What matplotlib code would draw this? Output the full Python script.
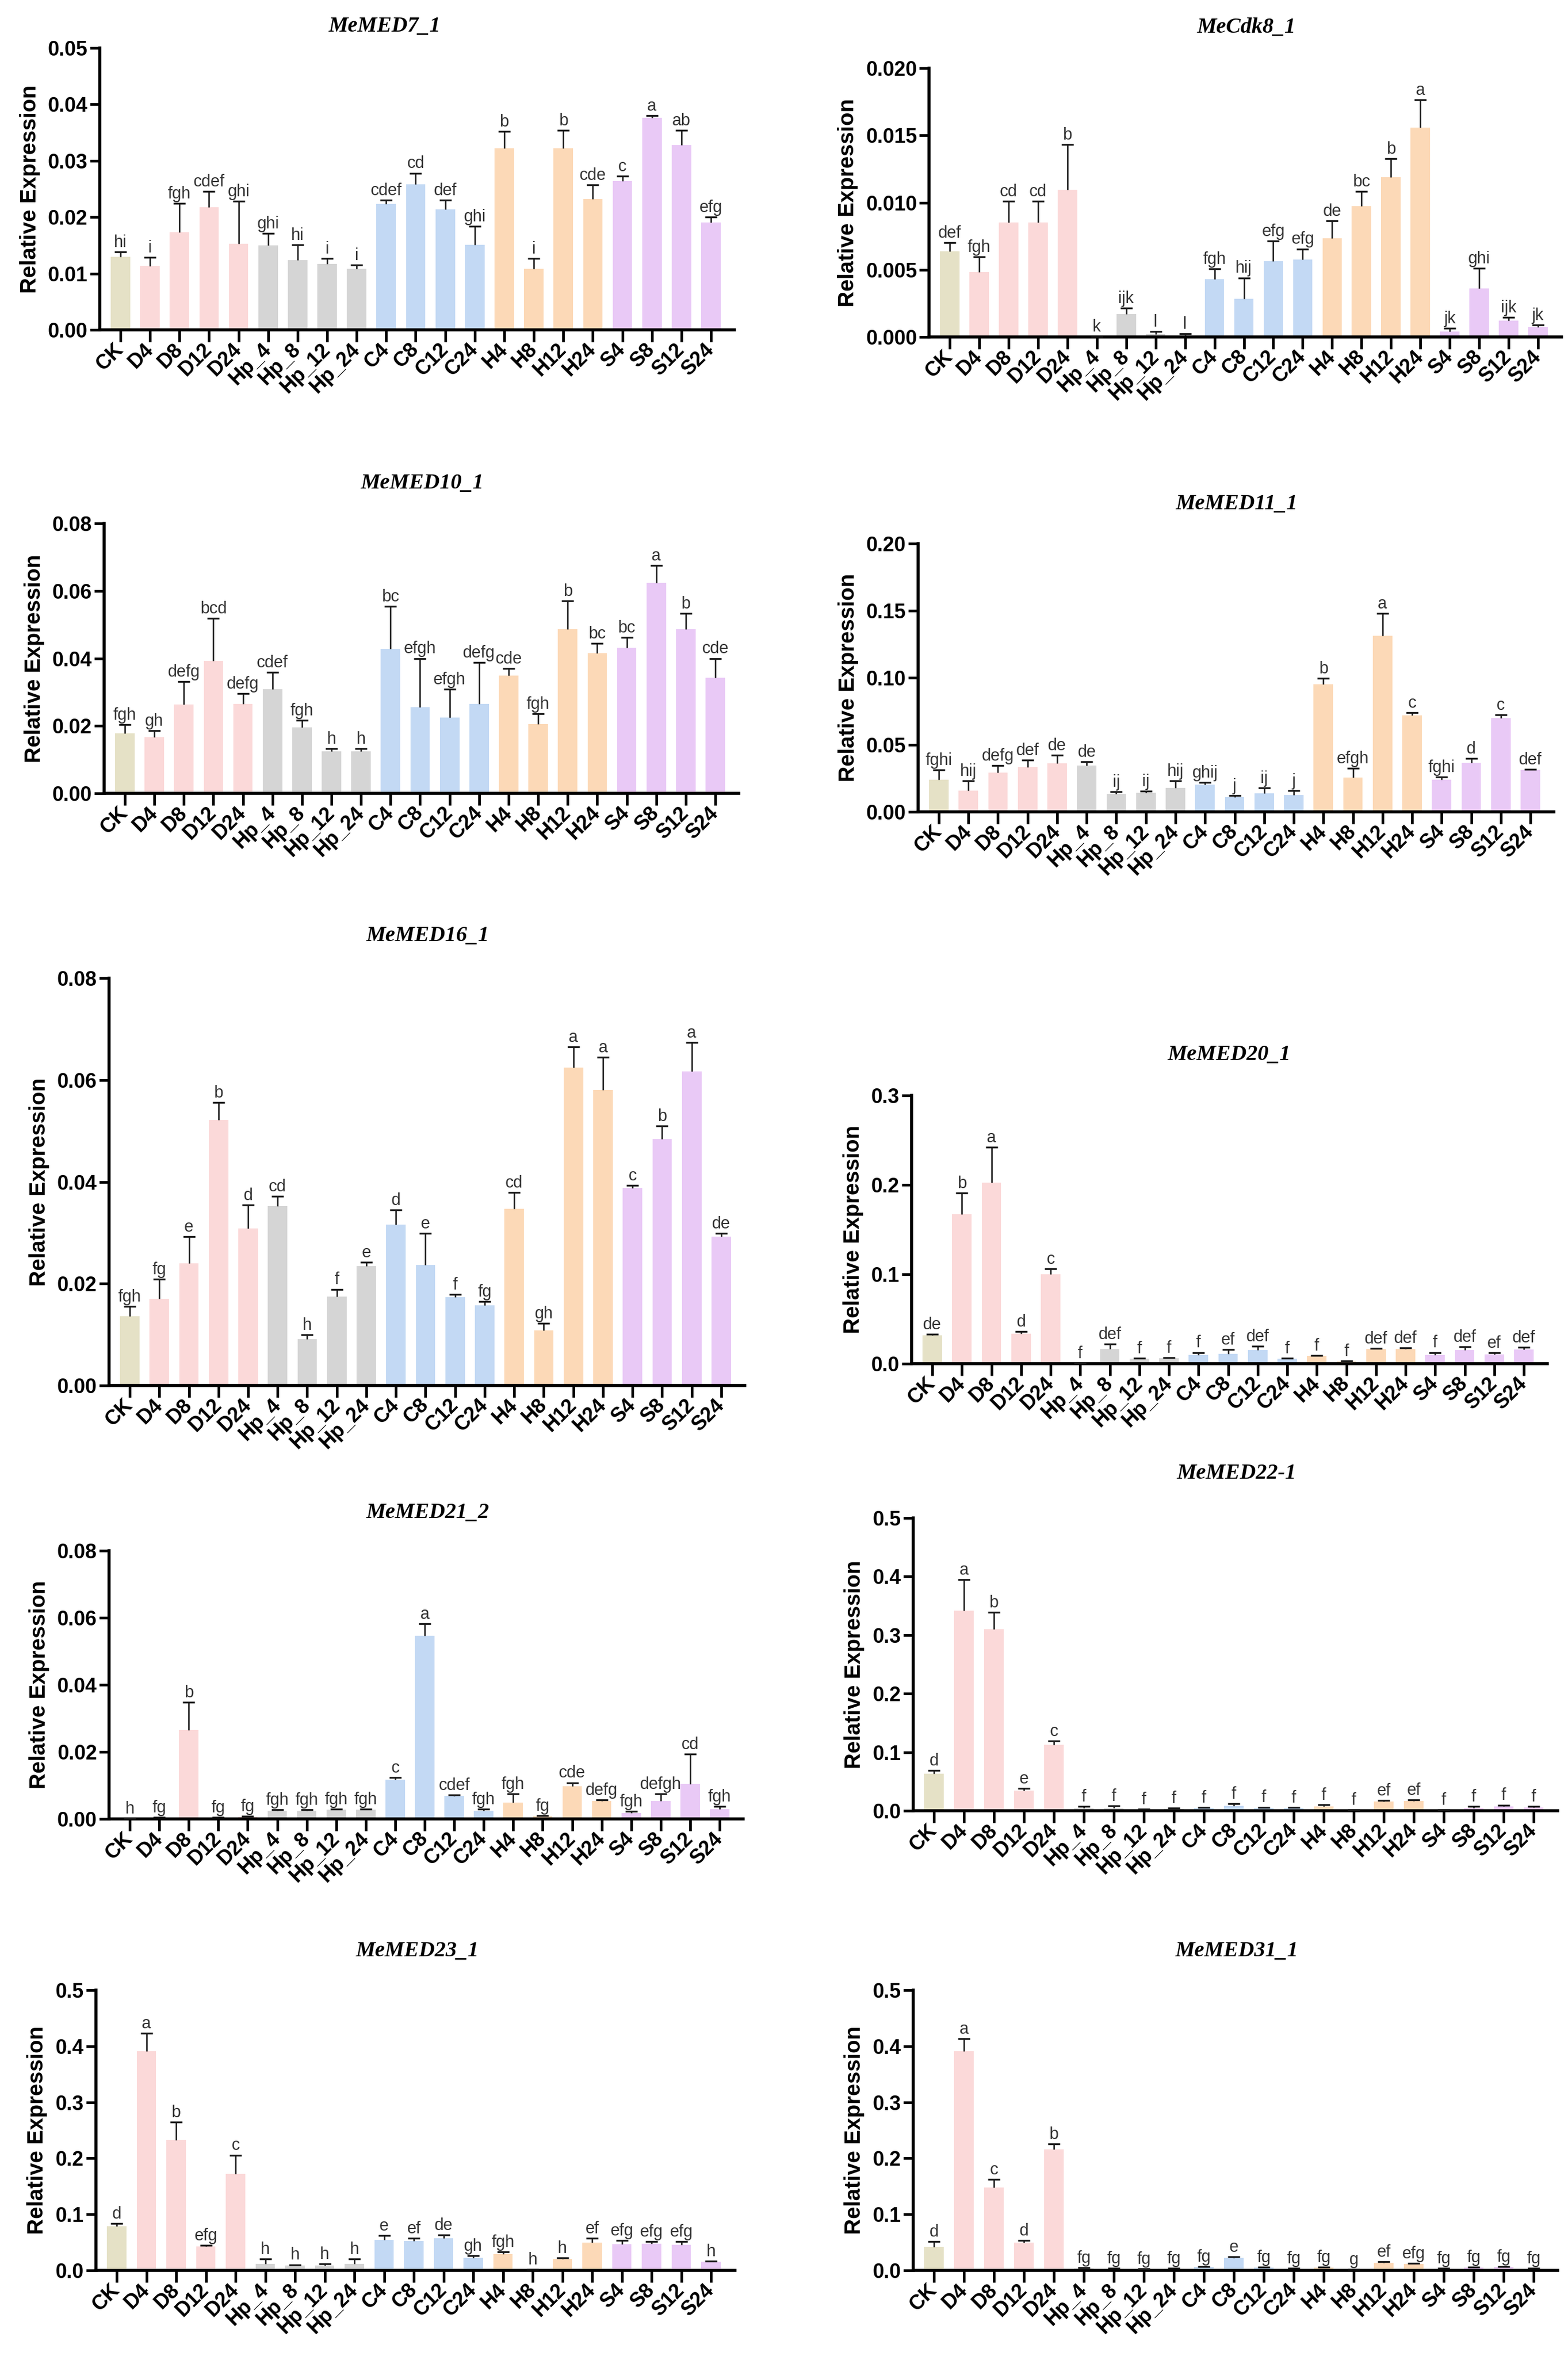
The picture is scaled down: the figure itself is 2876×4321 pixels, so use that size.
import numpy as np
import matplotlib.pyplot as plt
from matplotlib.ticker import FormatStrFormatter

plt.rcParams['font.family'] = ['Liberation Sans', 'DejaVu Sans']

## echantillons et couleurs
echantillons = ["CK", "D4", "D8", "D12", "D24", "Hp_4", "Hp_8", "Hp_12", "Hp_24",
                "C4", "C8", "C12", "C24", "H4", "H8", "H12", "H24", "S4", "S8", "S12", "S24"]
groupes = ["CK"] + ["D"] * 4 + ["Hp"] * 4 + ["C"] * 4 + ["H"] * 4 + ["S"] * 4
couleurs_groupes = {"CK": "#e5e1c6", "D": "#fbd9d9", "Hp": "#d5d5d5",
                    "C": "#c3d9f4", "H": "#fcd9b7", "S": "#e9c9f6"}

## donnees (moyenne, ecart-type, lettres)
genes = ["MeMED7_1", "MeCdk8_1", "MeMED10_1", "MeMED11_1", "MeMED16_1",
         "MeMED20_1", "MeMED21_2", "MeMED22-1", "MeMED23_1", "MeMED31_1"]

moy_med7 = [0.0130, 0.0113, 0.0173, 0.0218, 0.0153, 0.0150, 0.0124, 0.0117, 0.0108, 0.0223, 0.0258,
            0.0214, 0.0151, 0.0322, 0.0108, 0.0322, 0.0232, 0.0264, 0.0376, 0.0328, 0.0191]
sd_med7 = [0.0008, 0.0016, 0.0051, 0.0028, 0.0075, 0.0021, 0.0027, 0.0010, 0.0007, 0.0007, 0.0020,
           0.0016, 0.0033, 0.0030, 0.0019, 0.0032, 0.0025, 0.0009, 0.0004, 0.0026, 0.0009]
let_med7 = ["hi", "i", "fgh", "cdef", "ghi", "ghi", "hi", "i", "i", "cdef", "cd",
            "def", "ghi", "b", "i", "b", "cde", "c", "a", "ab", "efg"]

moy_cdk8 = [0.00637, 0.00483, 0.00852, 0.00852, 0.01096, 0.00002, 0.00169, 0.00020, 0.00010, 0.00431, 0.00285,
            0.00562, 0.00577, 0.00734, 0.00974, 0.01189, 0.01558, 0.00041, 0.00360, 0.00122, 0.00075]
sd_cdk8 = [0.00065, 0.00113, 0.00158, 0.00158, 0.00337, 0.0, 0.00046, 0.00020, 0.00015, 0.00075, 0.00155,
           0.00150, 0.00078, 0.00131, 0.00108, 0.00137, 0.00206, 0.00025, 0.00150, 0.00024, 0.00015]
let_cdk8 = ["def", "fgh", "cd", "cd", "b", "k", "ijk", "l", "l", "fgh", "hij",
            "efg", "efg", "de", "bc", "b", "a", "jk", "ghi", "ijk", "jk"]

moy_med10 = [0.0178, 0.0166, 0.0263, 0.0392, 0.0265, 0.0309, 0.0196, 0.0125, 0.0125, 0.0428, 0.0255,
             0.0225, 0.0265, 0.0349, 0.0206, 0.0486, 0.0416, 0.0432, 0.0624, 0.0486, 0.0343]
sd_med10 = [0.0026, 0.0020, 0.0068, 0.0127, 0.0030, 0.0049, 0.0021, 0.0008, 0.0008, 0.0126, 0.0145,
            0.0084, 0.0123, 0.0021, 0.0030, 0.0084, 0.0028, 0.0030, 0.0051, 0.0047, 0.0057]
let_med10 = ["fgh", "gh", "defg", "bcd", "defg", "cdef", "fgh", "h", "h", "bc", "efgh",
             "efgh", "defg", "cde", "fgh", "b", "bc", "bc", "a", "b", "cde"]

moy_med11 = [0.0240, 0.0159, 0.0291, 0.0332, 0.0362, 0.0346, 0.0134, 0.0142, 0.0179, 0.0203, 0.0108,
             0.0138, 0.0128, 0.0952, 0.0256, 0.1314, 0.0718, 0.0240, 0.0366, 0.0698, 0.0311]
sd_med11 = [0.0071, 0.0071, 0.0055, 0.0055, 0.0061, 0.0026, 0.0015, 0.0013, 0.0051, 0.0017, 0.0014,
            0.0041, 0.0031, 0.0045, 0.0070, 0.0167, 0.0021, 0.0020, 0.0033, 0.0026, 0.0006]
let_med11 = ["fghi", "hij", "defg", "def", "de", "de", "ij", "ij", "hij", "ghij", "j",
             "ij", "j", "b", "efgh", "a", "c", "fghi", "d", "c", "def"]

moy_med16 = [0.0136, 0.0170, 0.0240, 0.0522, 0.0308, 0.0352, 0.0091, 0.0175, 0.0235, 0.0316, 0.0237,
             0.0173, 0.0157, 0.0347, 0.0108, 0.0624, 0.0580, 0.0388, 0.0484, 0.0617, 0.0292]
sd_med16 = [0.0019, 0.0039, 0.0052, 0.0034, 0.0046, 0.0020, 0.0009, 0.0014, 0.0007, 0.0029, 0.0062,
            0.0006, 0.0008, 0.0032, 0.0014, 0.0041, 0.0065, 0.0005, 0.0026, 0.0057, 0.0007]
let_med16 = ["fgh", "fg", "e", "b", "d", "cd", "h", "f", "e", "d", "e",
             "f", "fg", "cd", "gh", "a", "a", "c", "b", "a", "de"]

moy_med20 = [0.0319, 0.1672, 0.2025, 0.0338, 0.1000, 0.0003, 0.0163, 0.0056, 0.0063, 0.0100, 0.0109,
             0.0150, 0.0053, 0.0084, 0.0025, 0.0163, 0.0166, 0.0100, 0.0150, 0.0103, 0.0156]
sd_med20 = [0.0009, 0.0234, 0.0397, 0.0021, 0.0063, 0.0002, 0.0056, 0.0007, 0.0006, 0.0025, 0.0047,
            0.0047, 0.0006, 0.0010, 0.0003, 0.0006, 0.0009, 0.0025, 0.0038, 0.0016, 0.0025]
let_med20 = ["de", "b", "a", "d", "c", "f", "def", "f", "f", "f", "ef",
             "def", "f", "f", "f", "def", "def", "f", "def", "ef", "def"]

moy_med21 = [0.0001, 0.0004, 0.0265, 0.0004, 0.0007, 0.0025, 0.0025, 0.0027, 0.0027, 0.0117, 0.0546,
             0.0068, 0.0025, 0.0048, 0.0008, 0.0098, 0.0054, 0.0018, 0.0054, 0.0104, 0.0029]
sd_med21 = [0.0001, 0.0001, 0.0083, 0.0001, 0.0001, 0.0002, 0.0002, 0.0002, 0.0002, 0.0006, 0.0036,
            0.0003, 0.0004, 0.0027, 0.0002, 0.0010, 0.0003, 0.0005, 0.0021, 0.0089, 0.0009]
let_med21 = ["h", "fg", "b", "fg", "fg", "fgh", "fgh", "fgh", "fgh", "c", "a",
             "cdef", "fgh", "fgh", "fg", "cde", "defg", "fgh", "defgh", "cd", "fgh"]

moy_med22 = [0.0636, 0.342, 0.310, 0.0344, 0.1128, 0.0050, 0.0050, 0.0020, 0.0036, 0.0046, 0.0087,
             0.0050, 0.0046, 0.0077, 0.0010, 0.0154, 0.0164, 0.0010, 0.0050, 0.0072, 0.0060]
sd_med22 = [0.0051, 0.053, 0.029, 0.0035, 0.0062, 0.0020, 0.0030, 0.0010, 0.0010, 0.0010, 0.0036,
            0.0010, 0.0010, 0.0026, 0.0005, 0.0020, 0.0021, 0.0005, 0.0020, 0.0025, 0.0017]
let_med22 = ["d", "a", "b", "e", "c", "f", "f", "f", "f", "f", "f",
             "f", "f", "f", "f", "ef", "ef", "f", "f", "f", "f"]

moy_med23 = [0.0788, 0.391, 0.2323, 0.0430, 0.1725, 0.0113, 0.0087, 0.0087, 0.0113, 0.0548, 0.0522,
             0.0573, 0.0225, 0.0292, 0.0010, 0.0205, 0.0496, 0.0471, 0.0481, 0.0460, 0.0154]
sd_med23 = [0.0051, 0.032, 0.0323, 0.0015, 0.0332, 0.0092, 0.0015, 0.0026, 0.0092, 0.0076, 0.0051,
            0.0062, 0.0041, 0.0036, 0.0005, 0.0020, 0.0077, 0.0061, 0.0031, 0.0052, 0.0010]
let_med23 = ["d", "a", "b", "efg", "c", "h", "h", "h", "h", "e", "ef",
             "de", "gh", "fgh", "h", "h", "ef", "efg", "efg", "efg", "h"]

moy_med31 = [0.0420, 0.391, 0.148, 0.0496, 0.216, 0.0036, 0.0026, 0.0020, 0.0030, 0.0060, 0.0225,
             0.0050, 0.0030, 0.0050, 0.0010, 0.0138, 0.0113, 0.0030, 0.0050, 0.0060, 0.0030]
sd_med31 = [0.0092, 0.022, 0.014, 0.0036, 0.010, 0.0010, 0.0010, 0.0010, 0.0010, 0.0010, 0.0015,
            0.0010, 0.0010, 0.0010, 0.0005, 0.0016, 0.0010, 0.0010, 0.0010, 0.0010, 0.0010]
let_med31 = ["d", "a", "c", "d", "b", "fg", "fg", "fg", "fg", "fg", "e",
             "fg", "fg", "fg", "g", "ef", "efg", "fg", "fg", "fg", "fg"]

moyennes = [moy_med7, moy_cdk8, moy_med10, moy_med11, moy_med16,
            moy_med20, moy_med21, moy_med22, moy_med23, moy_med31]
ecarts = [sd_med7, sd_cdk8, sd_med10, sd_med11, sd_med16,
          sd_med20, sd_med21, sd_med22, sd_med23, sd_med31]
lettres = [let_med7, let_cdk8, let_med10, let_med11, let_med16,
           let_med20, let_med21, let_med22, let_med23, let_med31]

# axe y : max, pas, decimales
ymaxs = [0.05, 0.020, 0.08, 0.20, 0.08, 0.3, 0.08, 0.5, 0.5, 0.5]
pas_y = [0.01, 0.005, 0.02, 0.05, 0.02, 0.1, 0.02, 0.1, 0.1, 0.1]
decimales = [2, 3, 2, 2, 2, 1, 2, 1, 1, 1]

## mise en page, en pixels de l'image finale
W, H = 2876, 4321
# (centre 1ere barre, centre derniere barre, haut de l'axe y, y=0, x titre, y titre)
cadres = [(221, 1304, 88, 605, 705, 48),
          (1742, 2821, 125, 618, 2286, 51),
          (229, 1312, 960, 1455, 774, 887),
          (1722, 2807, 997, 1489, 2268, 925),
          (238, 1323, 1794, 2541, 784, 1717),
          (1710, 2795, 2009, 2501, 2254, 1935),
          (238, 1320, 2844, 3336, 784, 2775),
          (1713, 2813, 2784, 3321, 2268, 2703),
          (214, 1304, 3650, 4164, 765, 3579),
          (1713, 2813, 3650, 4164, 2268, 3579)]

fig = plt.figure(figsize=(W / 100, H / 100), dpi=100)
x = np.arange(len(echantillons))
couleurs = [couleurs_groupes[g] for g in groupes]


def tracer(k):
    x0, x1, haut, bas, tx, ty = cadres[k]
    sp = (x1 - x0) / (len(echantillons) - 1)
    gauche = x0 - 0.7 * sp
    droite = x1 + 0.8 * sp
    ax = fig.add_axes([gauche / W, 1 - bas / H, (droite - gauche) / W, (bas - haut) / H])

    moy = np.array(moyennes[k])
    sd = np.array(ecarts[k])
    ax.bar(x, moy, width=0.66, color=couleurs, edgecolor='none', zorder=2)
    # barre d'erreur vers le haut seulement (forme en T)
    _, caps, _ = ax.errorbar(x, moy, yerr=[np.zeros(len(sd)), sd], fmt='none', ecolor='#1a1a1a',
                             elinewidth=1.9, capsize=8, capthick=2.4, zorder=3)
    caps[0].set_visible(False)
    for i in range(len(x)):
        ax.annotate(lettres[k][i], (x[i], moy[i] + sd[i]), xytext=(0, 1.5),
                    textcoords='offset points', ha='center', va='bottom',
                    fontsize=22, color='#333333', zorder=4)

    ax.set_xlim(-0.7, len(echantillons) - 1 + 0.8)
    ax.set_ylim(0, ymaxs[k])
    ax.set_yticks(np.arange(0, ymaxs[k] + pas_y[k] / 2, pas_y[k]))
    ax.yaxis.set_major_formatter(FormatStrFormatter('%.' + str(decimales[k]) + 'f'))
    ax.set_xticks(x)
    ax.set_xticklabels(echantillons, rotation=45, ha='right', va='center',
                       rotation_mode='anchor', fontsize=27, fontweight='bold')
    for lab in ax.get_yticklabels():
        lab.set_fontsize(27)
        lab.set_fontweight('bold')
    ax.tick_params(axis='y', length=13, width=3.5, pad=3)
    ax.tick_params(axis='x', length=16, width=3.5, pad=6)
    for cote in ['top', 'right']:
        ax.spines[cote].set_visible(False)
    for cote in ['left', 'bottom']:
        ax.spines[cote].set_linewidth(4)
    ax.set_ylabel("Relative Expression", fontsize=29, fontweight='bold', labelpad=10)

    fig.text(tx / W, 1 - ty / H, genes[k], ha='center', va='center',
             family='Liberation Serif', fontweight='bold', fontstyle='italic', fontsize=29)
    return ax


for k in range(len(genes)):
    tracer(k)

fig.savefig("out.png", dpi=100, facecolor='white')
